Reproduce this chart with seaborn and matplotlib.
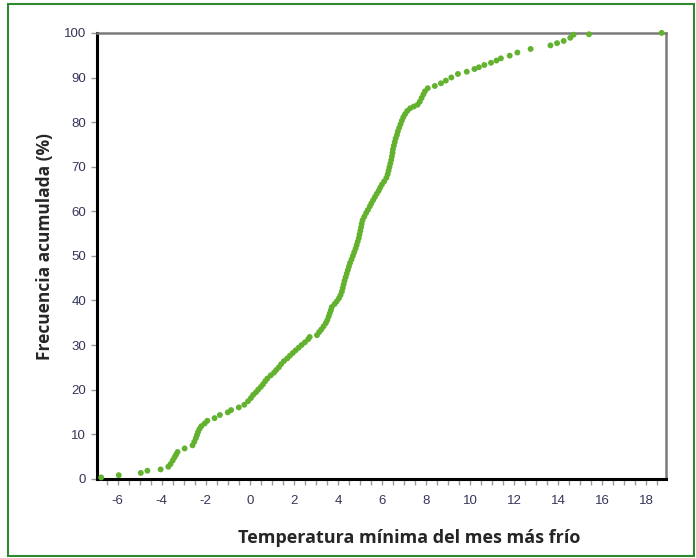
import numpy as np
import pandas as pd
import matplotlib
matplotlib.use("Agg")
import matplotlib.pyplot as plt
from matplotlib.patches import Rectangle
from matplotlib.ticker import MultipleLocator
import seaborn as sns

# Temperatura minima del mes mas frio (C) and cumulative frequency (%)
temperatura = [
    -6.75, -5.95, -4.95, -4.65, -4.05, -3.7, -3.6, -3.5, -3.42, -3.35, -3.28,
    -2.96, -2.6, -2.52, -2.45, -2.4, -2.35, -2.28, -2.2, -2.05, -1.93, -1.6,
    -1.36, -1.0, -0.85, -0.5, -0.25, -0.08, 0.05, 0.15, 0.28, 0.38, 0.5, 0.6,
    0.7, 0.8, 0.95, 1.1, 1.2, 1.32, 1.42, 1.55, 1.7, 1.82, 1.95, 2.08, 2.22,
    2.35, 2.5, 2.65, 2.72, 3.05, 3.15, 3.25, 3.35, 3.45, 3.52, 3.58, 3.63,
    3.68, 3.72, 3.85, 3.95, 4.05, 4.12, 4.18, 4.22, 4.26, 4.3, 4.35, 4.4,
    4.45, 4.5, 4.55, 4.62, 4.68, 4.74, 4.8, 4.85, 4.9, 4.95, 4.98, 5.02,
    5.05, 5.08, 5.12, 5.2, 5.28, 5.36, 5.45, 5.52, 5.6, 5.68, 5.76, 5.85,
    5.92, 6.0, 6.1, 6.2, 6.26, 6.3, 6.34, 6.38, 6.42, 6.45, 6.48, 6.5, 6.54,
    6.58, 6.62, 6.68, 6.72, 6.78, 6.84, 6.9, 6.97, 7.05, 7.15, 7.28, 7.45,
    7.62, 7.72, 7.8, 7.88, 7.95, 8.08, 8.4, 8.68, 8.9, 9.15, 9.45, 9.85,
    10.2, 10.4, 10.65, 10.95, 11.2, 11.4, 11.8, 12.15, 12.75, 13.65, 13.95,
    14.25, 14.55, 14.7, 15.4, 18.7,
]
frecuencia = [
    0.3, 0.8, 1.3, 1.8, 2.1, 2.7, 3.3, 4.1, 4.8, 5.4, 6.0,
    6.8, 7.5, 8.3, 9.1, 9.8, 10.5, 11.2, 11.8, 12.4, 13.0, 13.6,
    14.3, 14.9, 15.4, 16.0, 16.6, 17.4, 18.1, 18.8, 19.4, 20.0, 20.6, 21.2,
    21.9, 22.5, 23.2, 23.8, 24.4, 25.0, 25.7, 26.4, 27.0, 27.6, 28.2, 28.8, 29.4,
    30.0, 30.6, 31.3, 31.8, 32.2, 32.9, 33.5, 34.2, 34.9, 35.6, 36.4, 37.1,
    37.8, 38.5, 39.2, 39.8, 40.5, 41.2, 42.0, 42.8, 43.6, 44.4, 45.2, 46.0,
    46.8, 47.6, 48.4, 49.2, 50.0, 50.8, 51.6, 52.4, 53.2, 54.0, 54.8, 55.6,
    56.4, 57.2, 58.0, 58.8, 59.6, 60.3, 61.1, 61.8, 62.5, 63.2, 63.9, 64.6,
    65.3, 66.0, 66.7, 67.5, 68.3, 69.1, 69.9, 70.7, 71.5, 72.3, 73.1, 73.9, 74.7,
    75.5, 76.3, 77.1, 77.9, 78.7, 79.5, 80.3, 81.1, 81.8, 82.5, 83.1, 83.5,
    83.9, 84.6, 85.4, 86.2, 86.9, 87.6, 88.1, 88.7, 89.3, 90.0, 90.8, 91.3,
    91.9, 92.3, 92.8, 93.3, 93.8, 94.3, 94.9, 95.6, 96.4, 97.2, 97.7,
    98.2, 98.9, 99.6, 99.7, 100.0,
]
x_ticks = list(range(-6, 19, 2))
y_ticks = list(range(0, 101, 10))

df = pd.DataFrame({"temp": temperatura, "frec": frecuencia})

sns.set_style("white")
plt.rcParams["font.family"] = ["Liberation Sans", "DejaVu Sans"]
plt.rcParams["axes.unicode_minus"] = False

fig = plt.figure(figsize=(6.96, 5.58), dpi=100)
ax = fig.add_axes([0.139, 0.142, 0.818, 0.799])

sns.scatterplot(x="temp", y="frec", data=df, ax=ax, color="#62b22f",
                s=18, edgecolor="none", clip_on=False, zorder=3)

ax.set_xlim(-6.95, 18.9)
ax.set_ylim(0, 100)
ax.set_xticks(x_ticks)
ax.set_yticks(y_ticks)
ax.xaxis.set_minor_locator(MultipleLocator(0.5))

ax.tick_params(axis="both", which="both", direction="out", length=4,
               width=1, color="#9a9a9a", labelsize=9.5, labelcolor="#35355a",
               bottom=True, left=True)
ax.tick_params(axis="x", pad=8)

for side in ["left", "bottom"]:
    ax.spines[side].set_color("black")
    ax.spines[side].set_linewidth(2.2)
for side in ["top", "right"]:
    ax.spines[side].set_color("#7a7a7a")
    ax.spines[side].set_linewidth(1.8)

ax.set_xlabel("Temperatura mínima del mes más frío", fontsize=13,
              fontweight="bold", family=["Open Sans", "DejaVu Sans"])
ax.xaxis.set_label_coords(0.548, -0.112)
ax.set_ylabel("Frecuencia acumulada (%)", fontsize=12.5,
              fontweight="bold", family=["Open Sans", "DejaVu Sans"])
ax.yaxis.set_label_coords(-0.075, 0.52)

# green frame around the whole picture
fig.patches.append(Rectangle((8 / 696, 2 / 558), 686 / 696, 552 / 558,
                             transform=fig.transFigure, fill=False,
                             edgecolor="#2f8a2f", linewidth=1.5))

fig.savefig("out.png", dpi=100)
